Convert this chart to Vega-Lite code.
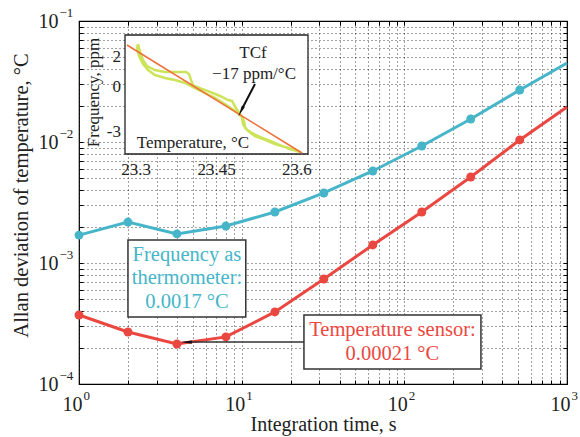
{
  "$schema": "https://vega.github.io/schema/vega-lite/v6.json",
  "width": 488,
  "height": 363,
  "autosize": {"type": "none"},
  "padding": {"left": 79, "top": 21, "right": 13, "bottom": 53},
  "background": "white",
  "config": {
    "view": {"stroke": "#000", "strokeWidth": 1.2},
    "font": "Liberation Serif",
    "text": {"font": "Liberation Serif"}
  },
  "datasets": {
    "adev": [
      {"t": 1, "adev": 0.0017, "series": "freq"},
      {"t": 2, "adev": 0.00218, "series": "freq"},
      {"t": 4, "adev": 0.00174, "series": "freq"},
      {"t": 8, "adev": 0.00202, "series": "freq"},
      {"t": 16, "adev": 0.00264, "series": "freq"},
      {"t": 32, "adev": 0.00379, "series": "freq"},
      {"t": 64, "adev": 0.00576, "series": "freq"},
      {"t": 128, "adev": 0.00927, "series": "freq"},
      {"t": 256, "adev": 0.0155, "series": "freq"},
      {"t": 512, "adev": 0.0269, "series": "freq"},
      {"t": 1000, "adev": 0.045, "series": "freq"},
      {"t": 1, "adev": 0.000372, "series": "temp"},
      {"t": 2, "adev": 0.000269, "series": "temp"},
      {"t": 4, "adev": 0.000214, "series": "temp"},
      {"t": 8, "adev": 0.000245, "series": "temp"},
      {"t": 16, "adev": 0.000394, "series": "temp"},
      {"t": 32, "adev": 0.000738, "series": "temp"},
      {"t": 64, "adev": 0.00141, "series": "temp"},
      {"t": 128, "adev": 0.00264, "series": "temp"},
      {"t": 256, "adev": 0.00514, "series": "temp"},
      {"t": 512, "adev": 0.0104, "series": "temp"},
      {"t": 1000, "adev": 0.0195, "series": "temp"}
    ],
    "xticks": [
      {"t": 1, "e": "0"}, {"t": 10, "e": "1"}, {"t": 100, "e": "2"}, {"t": 1000, "e": "3"}
    ],
    "yticks": [
      {"v": 0.1, "e": "−1"}, {"v": 0.01, "e": "−2"}, {"v": 0.001, "e": "−3"}, {"v": 0.0001, "e": "−4"}
    ],
    "loop": [
      {"i": 0, "x": 23.3037, "y": 2.87},
      {"i": 1, "x": 23.3075, "y": 2.33},
      {"i": 2, "x": 23.313, "y": 1.8},
      {"i": 3, "x": 23.3205, "y": 1.4},
      {"i": 4, "x": 23.3354, "y": 1.13},
      {"i": 5, "x": 23.354, "y": 1.0},
      {"i": 6, "x": 23.3727, "y": 1.0},
      {"i": 7, "x": 23.3932, "y": 1.0},
      {"i": 8, "x": 23.3988, "y": 0.87},
      {"i": 9, "x": 23.4025, "y": 0.47},
      {"i": 10, "x": 23.4062, "y": 0.13},
      {"i": 11, "x": 23.4192, "y": -0.07},
      {"i": 12, "x": 23.4379, "y": -0.33},
      {"i": 13, "x": 23.4565, "y": -0.6},
      {"i": 14, "x": 23.4714, "y": -0.87},
      {"i": 15, "x": 23.4789, "y": -0.93},
      {"i": 16, "x": 23.4863, "y": -1.4},
      {"i": 17, "x": 23.4938, "y": -1.8},
      {"i": 18, "x": 23.4975, "y": -2.07},
      {"i": 19, "x": 23.4994, "y": -2.47},
      {"i": 20, "x": 23.505, "y": -2.8},
      {"i": 21, "x": 23.5161, "y": -3.07},
      {"i": 22, "x": 23.531, "y": -3.33},
      {"i": 23, "x": 23.5497, "y": -3.6},
      {"i": 24, "x": 23.5683, "y": -3.87},
      {"i": 25, "x": 23.5869, "y": -4.13},
      {"i": 26, "x": 23.6056, "y": -4.33},
      {"i": 27, "x": 23.5963, "y": -4.2},
      {"i": 28, "x": 23.5776, "y": -4.0},
      {"i": 29, "x": 23.559, "y": -3.8},
      {"i": 30, "x": 23.5404, "y": -3.53},
      {"i": 31, "x": 23.5217, "y": -3.27},
      {"i": 32, "x": 23.5087, "y": -2.93},
      {"i": 33, "x": 23.5031, "y": -2.67},
      {"i": 34, "x": 23.5012, "y": -2.27},
      {"i": 35, "x": 23.4956, "y": -1.93},
      {"i": 36, "x": 23.4845, "y": -1.6},
      {"i": 37, "x": 23.4658, "y": -1.13},
      {"i": 38, "x": 23.4472, "y": -0.73},
      {"i": 39, "x": 23.4286, "y": -0.4},
      {"i": 40, "x": 23.4099, "y": -0.07},
      {"i": 41, "x": 23.3913, "y": 0.27},
      {"i": 42, "x": 23.3727, "y": 0.47},
      {"i": 43, "x": 23.354, "y": 0.6},
      {"i": 44, "x": 23.3354, "y": 0.8},
      {"i": 45, "x": 23.3224, "y": 1.13},
      {"i": 46, "x": 23.313, "y": 1.53},
      {"i": 47, "x": 23.3056, "y": 2.07},
      {"i": 48, "x": 23.3019, "y": 2.6},
      {"i": 49, "x": 23.3037, "y": 2.87}
    ],
    "fit": [
      {"x": 23.2832, "y": 2.8},
      {"x": 23.6093, "y": -4.4}
    ],
    "insetX": [
      {"x": 23.3, "label": "23.3"}, {"x": 23.45, "label": "23.45"}, {"x": 23.6, "label": "23.6"}
    ],
    "insetY": [
      {"y": 2, "label": "2"}, {"y": 0, "label": "0"}, {"y": -3, "label": "-3"}
    ]
  },
  "layer": [
    {
      "data": {"name": "adev"},
      "mark": {"type": "line", "strokeWidth": 3},
      "encoding": {
        "x": {
          "field": "t", "type": "quantitative",
          "scale": {"type": "log", "domain": [1, 1000], "nice": false},
          "axis": {
            "orient": "bottom",
            "values": [1, 2, 3, 4, 5, 6, 7, 8, 9, 10, 20, 30, 40, 50, 60, 70, 80, 90, 100, 200, 300, 400, 500, 600, 700, 800, 900, 1000],
            "labels": false, "domain": false,
            "grid": true, "gridDash": [1, 3], "gridColor": "#000", "gridOpacity": 0.75, "gridWidth": 1,
            "ticks": true, "tickSize": -4, "tickColor": "#000", "tickWidth": 1,
            "title": "Integration time, s",
            "titleFont": "Liberation Serif", "titleFontSize": 20, "titleFontWeight": "normal", "titleColor": "#222",
            "titleBaseline": "alphabetic", "titleY": 46
          }
        },
        "y": {
          "field": "adev", "type": "quantitative",
          "scale": {"type": "log", "domain": [0.0001, 0.1], "nice": false},
          "axis": {
            "orient": "left",
            "values": [0.0001, 0.0002, 0.0003, 0.0004, 0.0005, 0.0006, 0.0007, 0.0008, 0.0009, 0.001, 0.002, 0.003, 0.004, 0.005, 0.006, 0.007, 0.008, 0.009, 0.01, 0.02, 0.03, 0.04, 0.05, 0.06, 0.07, 0.08, 0.09, 0.1],
            "labels": false, "domain": false,
            "grid": true, "gridDash": [1, 3], "gridColor": "#000", "gridOpacity": 0.75, "gridWidth": 1,
            "ticks": true, "tickSize": -4, "tickColor": "#000", "tickWidth": 1,
            "title": "Allan deviation of temperature, °C",
            "titleFont": "Liberation Serif", "titleFontSize": 20.5, "titleFontWeight": "normal", "titleColor": "#222",
            "titleBaseline": "alphabetic", "titleAlign": "center", "titleAngle": 270, "titleX": -52, "titleY": 174
          }
        },
        "color": {"field": "series", "type": "nominal", "scale": {"domain": ["freq", "temp"], "range": ["#46b5c9", "#eb4741"]}, "legend": null}
      }
    },
    {
      "data": {"name": "adev"},
      "transform": [{"filter": "datum.t < 1000"}],
      "mark": {"type": "circle", "size": 80, "opacity": 1},
      "encoding": {
        "x": {"field": "t", "type": "quantitative", "scale": {"type": "log", "domain": [1, 1000], "nice": false},
          "axis": {"orient": "top", "values": [1, 2, 3, 4, 5, 6, 7, 8, 9, 10, 20, 30, 40, 50, 60, 70, 80, 90, 100, 200, 300, 400, 500, 600, 700, 800, 900, 1000], "labels": false, "domain": false, "grid": false, "ticks": true, "tickSize": -4, "tickColor": "#000", "tickWidth": 1, "title": null}},
        "y": {"field": "adev", "type": "quantitative", "scale": {"type": "log", "domain": [0.0001, 0.1], "nice": false},
          "axis": {"orient": "right", "values": [0.0001, 0.0002, 0.0003, 0.0004, 0.0005, 0.0006, 0.0007, 0.0008, 0.0009, 0.001, 0.002, 0.003, 0.004, 0.005, 0.006, 0.007, 0.008, 0.009, 0.01, 0.02, 0.03, 0.04, 0.05, 0.06, 0.07, 0.08, 0.09, 0.1], "labels": false, "domain": false, "grid": false, "ticks": true, "tickSize": -4, "tickColor": "#000", "tickWidth": 1, "title": null}},
        "color": {"field": "series", "type": "nominal", "scale": {"domain": ["freq", "temp"], "range": ["#46b5c9", "#eb4741"]}, "legend": null}
      }
    },
    {
      "data": {"values": [{}]},
      "mark": {"type": "rect", "fill": "white", "stroke": "#333", "strokeWidth": 1.5},
      "encoding": {
        "x": {"datum": 2.0, "type": "quantitative", "scale": {"type": "log", "domain": [1, 1000], "nice": false}, "axis": null},
        "x2": {"datum": 10.6},
        "y": {"datum": 0.00155, "type": "quantitative", "scale": {"type": "log", "domain": [0.0001, 0.1], "nice": false}, "axis": null},
        "y2": {"datum": 0.000358}
      }
    },
    {
      "data": {"values": [{}]},
      "mark": {"type": "rect", "fill": "white", "stroke": "#333", "strokeWidth": 1.5},
      "encoding": {
        "x": {"datum": 24.15, "type": "quantitative", "scale": {"type": "log", "domain": [1, 1000], "nice": false}, "axis": null},
        "x2": {"datum": 295.8},
        "y": {"datum": 0.000372, "type": "quantitative", "scale": {"type": "log", "domain": [0.0001, 0.1], "nice": false}, "axis": null},
        "y2": {"datum": 0.000133}
      }
    },
    {
      "data": {"values": [{}]},
      "mark": {"type": "rule", "stroke": "#333", "strokeWidth": 1.5},
      "encoding": {
        "x": {"datum": 4.6, "type": "quantitative", "scale": {"type": "log", "domain": [1, 1000], "nice": false}, "axis": null},
        "x2": {"datum": 24.15},
        "y": {"datum": 0.000222, "type": "quantitative", "scale": {"type": "log", "domain": [0.0001, 0.1], "nice": false}, "axis": null}
      }
    },
    {
      "data": {"values": [{}]},
      "mark": {"type": "point", "shape": "wedge", "filled": true, "color": "#111", "size": 170, "angle": 270, "opacity": 1},
      "encoding": {
        "x": {"datum": 4.68, "type": "quantitative", "scale": {"type": "log", "domain": [1, 1000], "nice": false}, "axis": null},
        "y": {"datum": 0.000222, "type": "quantitative", "scale": {"type": "log", "domain": [0.0001, 0.1], "nice": false}, "axis": null}
      }
    },
    {
      "data": {"values": [{"t": 4.61, "v": 0.000745, "label": "Frequency as\nthermometer:\n0.0017 °C"}]},
      "mark": {"type": "text", "font": "Liberation Serif", "fontSize": 20.5, "color": "#46b5c9", "align": "center", "baseline": "middle", "lineBreak": "\n", "lineHeight": 23.5, "dy": -23.5},
      "encoding": {
        "x": {"field": "t", "type": "quantitative", "scale": {"type": "log", "domain": [1, 1000], "nice": false}, "axis": null},
        "y": {"field": "v", "type": "quantitative", "scale": {"type": "log", "domain": [0.0001, 0.1], "nice": false}, "axis": null},
        "text": {"field": "label"}
      }
    },
    {
      "data": {"values": [{"t": 84.5, "v": 0.000222, "label": "Temperature sensor:\n0.00021 °C"}]},
      "mark": {"type": "text", "font": "Liberation Serif", "fontSize": 20.5, "color": "#eb4741", "align": "center", "baseline": "middle", "lineBreak": "\n", "lineHeight": 24, "dy": -12},
      "encoding": {
        "x": {"field": "t", "type": "quantitative", "scale": {"type": "log", "domain": [1, 1000], "nice": false}, "axis": null},
        "y": {"field": "v", "type": "quantitative", "scale": {"type": "log", "domain": [0.0001, 0.1], "nice": false}, "axis": null},
        "text": {"field": "label"}
      }
    },
    {
      "data": {"name": "xticks"},
      "mark": {"type": "text", "font": "Liberation Serif", "fontSize": 20, "color": "#222", "align": "right", "baseline": "alphabetic", "dx": 3.5, "dy": 27},
      "encoding": {
        "x": {"field": "t", "type": "quantitative", "scale": {"type": "log", "domain": [1, 1000], "nice": false}, "axis": null},
        "y": {"datum": 0.0001, "type": "quantitative", "scale": {"type": "log", "domain": [0.0001, 0.1], "nice": false}, "axis": null},
        "text": {"value": "10"}
      }
    },
    {
      "data": {"name": "xticks"},
      "mark": {"type": "text", "font": "Liberation Serif", "fontSize": 13, "color": "#222", "align": "left", "baseline": "alphabetic", "dx": 4.5, "dy": 16},
      "encoding": {
        "x": {"field": "t", "type": "quantitative", "scale": {"type": "log", "domain": [1, 1000], "nice": false}, "axis": null},
        "y": {"datum": 0.0001, "type": "quantitative", "scale": {"type": "log", "domain": [0.0001, 0.1], "nice": false}, "axis": null},
        "text": {"field": "e"}
      }
    },
    {
      "data": {"name": "yticks"},
      "mark": {"type": "text", "font": "Liberation Serif", "fontSize": 20, "color": "#222", "align": "right", "baseline": "alphabetic", "dx": -20.5, "dy": 7},
      "encoding": {
        "x": {"datum": 1, "type": "quantitative", "scale": {"type": "log", "domain": [1, 1000], "nice": false}, "axis": null},
        "y": {"field": "v", "type": "quantitative", "scale": {"type": "log", "domain": [0.0001, 0.1], "nice": false}, "axis": null},
        "text": {"value": "10"}
      }
    },
    {
      "data": {"name": "yticks"},
      "mark": {"type": "text", "font": "Liberation Serif", "fontSize": 13, "color": "#222", "align": "left", "baseline": "alphabetic", "dx": -19.5, "dy": -4},
      "encoding": {
        "x": {"datum": 1, "type": "quantitative", "scale": {"type": "log", "domain": [1, 1000], "nice": false}, "axis": null},
        "y": {"field": "v", "type": "quantitative", "scale": {"type": "log", "domain": [0.0001, 0.1], "nice": false}, "axis": null},
        "text": {"field": "e"}
      }
    },
    {
      "data": {"values": [{}]},
      "mark": {"type": "rect", "fill": "white", "stroke": "#222", "strokeWidth": 1.3},
      "encoding": {
        "x": {"datum": 23.2795, "type": "quantitative", "scale": {"domain": [23.2795, 23.6205], "range": [46, 229], "nice": false, "zero": false}, "axis": null},
        "x2": {"datum": 23.6205},
        "y": {"datum": -4.467, "type": "quantitative", "scale": {"domain": [-4.467, 3.467], "range": [133, 14], "nice": false, "zero": false}, "axis": null},
        "y2": {"datum": 3.467}
      }
    },
    {
      "data": {"name": "loop"},
      "mark": {"type": "line", "stroke": "#cde35a", "strokeWidth": 2.5},
      "encoding": {
        "x": {"field": "x", "type": "quantitative", "scale": {"domain": [23.2795, 23.6205], "range": [46, 229], "nice": false, "zero": false}, "axis": null},
        "y": {"field": "y", "type": "quantitative", "scale": {"domain": [-4.467, 3.467], "range": [133, 14], "nice": false, "zero": false}, "axis": null},
        "order": {"field": "i"}
      }
    },
    {
      "data": {"name": "fit"},
      "mark": {"type": "line", "stroke": "#f0703c", "strokeWidth": 1.6},
      "encoding": {
        "x": {"field": "x", "type": "quantitative", "scale": {"domain": [23.2795, 23.6205], "range": [46, 229], "nice": false, "zero": false}, "axis": null},
        "y": {"field": "y", "type": "quantitative", "scale": {"domain": [-4.467, 3.467], "range": [133, 14], "nice": false, "zero": false}, "axis": null}
      }
    },
    {
      "data": {"values": [{}]},
      "mark": {"type": "rule", "stroke": "#111", "strokeWidth": 2},
      "encoding": {
        "x": {"datum": 23.5217, "type": "quantitative", "scale": {"domain": [23.2795, 23.6205], "range": [46, 229], "nice": false, "zero": false}, "axis": null},
        "x2": {"datum": 23.497},
        "y": {"datum": 0.2, "type": "quantitative", "scale": {"domain": [-4.467, 3.467], "range": [133, 14], "nice": false, "zero": false}, "axis": null},
        "y2": {"datum": -1.5}
      }
    },
    {
      "data": {"values": [{}]},
      "mark": {"type": "point", "shape": "wedge", "filled": true, "color": "#111", "size": 170, "angle": 207, "opacity": 1},
      "encoding": {
        "x": {"datum": 23.497, "type": "quantitative", "scale": {"domain": [23.2795, 23.6205], "range": [46, 229], "nice": false, "zero": false}, "axis": null},
        "y": {"datum": -1.513, "type": "quantitative", "scale": {"domain": [-4.467, 3.467], "range": [133, 14], "nice": false, "zero": false}, "axis": null}
      }
    },
    {
      "data": {"values": [
        {"x": 23.518, "y": 1.93, "label": "TCf"},
        {"x": 23.5199, "y": 0.53, "label": "−17 ppm/°C"},
        {"x": 23.4062, "y": -4.07, "label": "Temperature, °C"}
      ]},
      "mark": {"type": "text", "font": "Liberation Serif", "fontSize": 17, "color": "#222", "align": "center", "baseline": "alphabetic"},
      "encoding": {
        "x": {"field": "x", "type": "quantitative", "scale": {"domain": [23.2795, 23.6205], "range": [46, 229], "nice": false, "zero": false}, "axis": null},
        "y": {"field": "y", "type": "quantitative", "scale": {"domain": [-4.467, 3.467], "range": [133, 14], "nice": false, "zero": false}, "axis": null},
        "text": {"field": "label"}
      }
    },
    {
      "data": {"values": [{"x": 23.2311, "y": -0.37, "label": "Frequency, ppm"}]},
      "mark": {"type": "text", "font": "Liberation Serif", "fontSize": 17, "color": "#222", "align": "center", "baseline": "alphabetic", "angle": 270},
      "encoding": {
        "x": {"field": "x", "type": "quantitative", "scale": {"domain": [23.2795, 23.6205], "range": [46, 229], "nice": false, "zero": false}, "axis": null},
        "y": {"field": "y", "type": "quantitative", "scale": {"domain": [-4.467, 3.467], "range": [133, 14], "nice": false, "zero": false}, "axis": null},
        "text": {"field": "label"}
      }
    },
    {
      "data": {"name": "insetY"},
      "mark": {"type": "text", "font": "Liberation Serif", "fontSize": 17, "color": "#222", "align": "right", "baseline": "middle", "dx": -4},
      "encoding": {
        "x": {"datum": 23.2795, "type": "quantitative", "scale": {"domain": [23.2795, 23.6205], "range": [46, 229], "nice": false, "zero": false}, "axis": null},
        "y": {"field": "y", "type": "quantitative", "scale": {"domain": [-4.467, 3.467], "range": [133, 14], "nice": false, "zero": false}, "axis": null},
        "text": {"field": "label"}
      }
    },
    {
      "data": {"name": "insetX"},
      "mark": {"type": "text", "font": "Liberation Serif", "fontSize": 17, "color": "#222", "align": "center", "baseline": "alphabetic", "dy": 21},
      "encoding": {
        "x": {"field": "x", "type": "quantitative", "scale": {"domain": [23.2795, 23.6205], "range": [46, 229], "nice": false, "zero": false}, "axis": null},
        "y": {"datum": -4.467, "type": "quantitative", "scale": {"domain": [-4.467, 3.467], "range": [133, 14], "nice": false, "zero": false}, "axis": null},
        "text": {"field": "label"}
      }
    }
  ],
  "resolve": {"scale": {"x": "independent", "y": "independent"}}
}
